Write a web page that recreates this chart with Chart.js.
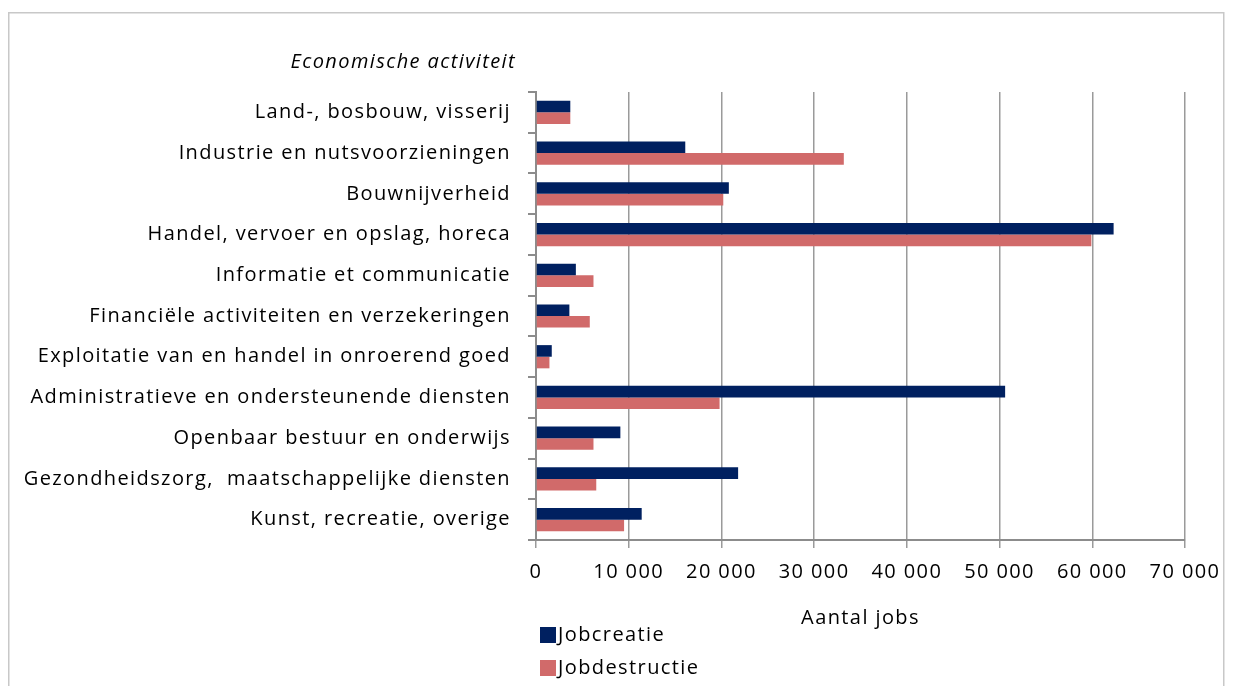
<!DOCTYPE html>
<html>
<head>
<meta charset="utf-8">
<script src="https://cdn.jsdelivr.net/npm/chart.js@4"></script>
<style>
  body { margin: 0; background: #fff; }
  #wrap { position: relative; width: 1234px; height: 686px; }
</style>
</head>
<body>
<div id="wrap"><canvas id="myChart"></canvas></div>
<script>
let categories = [
    "Land-, bosbouw, visserij",
    "Industrie en nutsvoorzieningen",
    "Bouwnijverheid",
    "Handel, vervoer en opslag, horeca",
    "Informatie et communicatie",
    "Financiële activiteiten en verzekeringen",
    "Exploitatie van en handel in onroerend goed",
    "Administratieve en ondersteunende diensten",
    "Openbaar bestuur en onderwijs",
    "Gezondheidszorg,  maatschappelijke diensten",
    "Kunst, recreatie, overige",
]
let jobcreatie = [3700, 16100, 20800, 62300, 4300, 3600, 1700, 50600, 9100, 21800, 11400]
let jobdestructie = [3700, 33200, 20200, 59900, 6200, 5800, 1450, 19800, 6200, 6500, 9500]

let fontFamily = "'Open Sans', Lato, sans-serif"
Chart.defaults.font.family = fontFamily
Chart.defaults.color = "#000"

function formatThousands(value) {
    return value.toString().replace(/\B(?=(\d{3})+(?!\d))/g, " ")
}

// border around the whole figure + the italic category title
let framePlugin = {
    id: "frame",
    beforeDraw: (chart) => {
        let ctx = chart.ctx
        ctx.save()
        ctx.strokeStyle = "#c8c8c8"
        ctx.lineWidth = 1.5
        ctx.strokeRect(8.75, 12.75, 1215, 700)
        ctx.restore()
        // the original text is spaced out a bit (Excel rendering)
        ctx.letterSpacing = "1.4px"
    },
    afterDraw: (chart) => {
        let ctx = chart.ctx
        let area = chart.chartArea
        ctx.save()
        ctx.letterSpacing = "1.4px"
        ctx.font = "italic 20px " + fontFamily
        ctx.fillStyle = "#000"
        ctx.textAlign = "right"
        ctx.textBaseline = "middle"
        ctx.fillText("Economische activiteit", area.left - 20, 62)

        // legend, one item per line under the plot
        ctx.font = "20px " + fontFamily
        ctx.textAlign = "left"
        chart.data.datasets.forEach((ds, i) => {
            let y = 635 + i * 33
            ctx.fillStyle = ds.backgroundColor
            ctx.fillRect(540, y - 8, 16, 16)
            ctx.fillStyle = "#000"
            ctx.fillText(ds.label, 558, y)
        })
        ctx.restore()
    },
}

let ctx = document.getElementById("myChart").getContext("2d")

let data = {
    labels: categories,
    datasets: [{
        label: "Jobcreatie",
        data: jobcreatie,
        backgroundColor: "#002060",
        categoryPercentage: 0.57,
        barPercentage: 1.0,
    }, {
        label: "Jobdestructie",
        data: jobdestructie,
        backgroundColor: "#D16A6A",
        categoryPercentage: 0.57,
        barPercentage: 1.0,
    },
    ],
}

let config = {
    type: "bar",
    data: data,
    options: {
        indexAxis: "y",
        responsive: true,
        maintainAspectRatio: false,
        animation: false,
        layout: {
            padding: { left: 0, top: 92, right: 49, bottom: 56 },
        },
        plugins: {
            legend: { display: false },
            tooltip: { enabled: false },
        },
        scales: {
            x: {
                min: 0,
                max: 70000,
                ticks: {
                    stepSize: 10000,
                    font: { size: 20 },
                    padding: 12,
                    callback: function (value) {
                        return formatThousands(value)
                    },
                },
                grid: {
                    color: "#9a9a9a",
                    lineWidth: 1.5,
                    tickLength: 8,
                },
                border: { color: "#8c8c8c", width: 2 },
                title: {
                    display: true,
                    text: "Aantal jobs",
                    font: { size: 20 },
                    padding: { top: 4, bottom: 0 },
                },
                afterFit: (scale) => {
                    scale.height = 90
                },
            },
            y: {
                ticks: {
                    font: { size: 20 },
                    padding: 17,
                },
                grid: {
                    drawOnChartArea: false,
                    color: "#8c8c8c",
                    lineWidth: 2,
                    tickLength: 8,
                    offset: true,
                },
                border: { color: "#8c8c8c", width: 2 },
                afterFit: (scale) => {
                    scale.width = 536
                },
            },
        },
    },
    plugins: [framePlugin],
}

let myChart = new Chart(ctx, config)
</script>
</body>
</html>
